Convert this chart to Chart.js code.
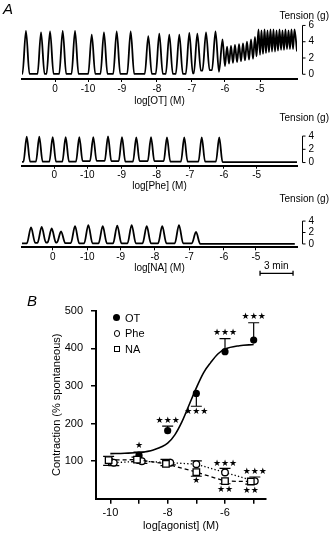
<!DOCTYPE html>
<html><head><meta charset="utf-8">
<script src="https://cdn.jsdelivr.net/npm/chart.js@4.4.1/dist/chart.umd.min.js"></script>
<style>
html,body{margin:0;padding:0;background:#fff;}
body{width:331px;height:536px;position:relative;overflow:hidden;font-family:'Liberation Sans',Arial,Helvetica,sans-serif;color:#000;}
canvas{position:absolute;left:0;}
.t{position:absolute;white-space:nowrap;}
.mk{position:absolute;box-sizing:border-box;}
</style></head><body>
<canvas id="c1" width="331" height="112" style="top:0px"></canvas>
<canvas id="c2" width="331" height="86" style="top:112px"></canvas>
<canvas id="c3" width="331" height="82" style="top:198px"></canvas>
<canvas id="cb" width="331" height="256" style="top:280px"></canvas>

<div class="t" style="left:3px;top:1px;font-size:15px;line-height:15px;font-style:italic;">A</div>
<div class="t" style="right:2px;top:10.5px;font-size:10px;line-height:10px;">Tension (g)</div>
<div class="t" style="right:2px;top:113px;font-size:10px;line-height:10px;">Tension (g)</div>
<div class="t" style="right:2px;top:193.7px;font-size:10px;line-height:10px;">Tension (g)</div>
<div class="t" style="left:264px;top:261px;font-size:10px;line-height:10px;">3 min</div>
<div class="t" style="left:27px;top:293px;font-size:15px;line-height:15px;font-style:italic;">B</div>

<div class="mk" style="left:113.2px;top:314.2px;width:7px;height:7px;border-radius:50%;background:#000;"></div>
<div class="mk" style="left:113.5px;top:330px;width:6.5px;height:6.5px;border-radius:50%;border:1.3px solid #000;background:#fff;"></div>
<div class="mk" style="left:113.5px;top:345.8px;width:6.5px;height:6.5px;border:1.3px solid #000;background:#fff;"></div>
<div class="t" style="left:125px;top:312.9px;font-size:11px;line-height:11px;">OT</div>
<div class="t" style="left:125px;top:327.9px;font-size:11px;line-height:11px;">Phe</div>
<div class="t" style="left:125px;top:343.6px;font-size:11px;line-height:11px;">NA</div>

<script>
// ---------- Panel A data (time in min) ----------
const concLabels = ['0','-10','-9','-8','-7','-6','-5'];
const otTickT  = [3.0, 6.0, 9.09, 12.27, 15.45, 18.45, 21.64];
const pheTickT = [2.94, 5.94, 9.06, 12.24, 15.27, 18.36, 21.34];
const naTickT  = [2.79, 5.94, 8.97, 12.09, 15.21, 18.36, 21.27];

const otPeakT = [0.36,1.73,2.55,3.70,4.82,6.34,7.45,8.61,9.88,11.48,12.48,13.39,14.30,15.21,15.94,16.73,17.59];
const otPeakV = [5.34,5.16,5.27,5.34,5.34,4.88,5.16,5.27,5.27,4.70,5.00,4.88,4.88,5.07,5.00,5.16,5.27];
const otBaseV = [0.05,0.05,0.05,0.05,0.05,0.05,0.05,0.05,0.05,0.05,0.05,0.05,0.05,0.05,0.1,0.45,0.5,0.3];
const otFastT = [18.23,18.45,18.64,18.82,19.0,19.18,19.36,19.55,19.73,19.91,20.09,20.27,20.45,20.64,20.82,21.0,21.18,21.32,
                 21.5,21.64,21.77,21.91,22.05,22.18,22.32,22.45,22.59,22.73,22.86,23.0,23.14,23.27,23.41,23.55,23.68,23.82,
                 23.95,24.09,24.23,24.36,24.5,24.64,24.77,25.0];
const otFastV = [4.3,1.0,3.4,1.3,3.5,1.4,3.6,1.5,3.7,1.6,3.8,1.7,4.0,1.8,4.3,1.9,4.6,2.2,
                 5.5,2.4,5.4,2.5,5.5,2.6,5.4,2.7,5.5,2.8,5.5,2.8,5.4,2.9,5.5,3.0,5.4,3.0,
                 5.5,3.1,5.4,3.1,5.5,3.1,5.5,2.8];

const phePeakT = [0.43,1.57,2.79,3.97,5.21,6.48,7.82,9.09,10.39,11.73,13.18,14.75,16.34,17.93];
const phePeakV = [3.9,3.9,3.85,3.85,3.85,3.85,3.95,3.85,3.8,3.85,3.8,3.8,3.8,3.8];
const pheBaseV = [0.1,0.15,0.15,0.15,0.15,0.2,0.25,0.2,0.15,0.2,0.2,0.15,0.15,0.15,0.05];

const naPeakT = [0.82,1.79,2.70,3.55,4.82,6.03,7.34,8.66,9.97,11.34,12.75,14.27,15.82];
const naPeakV = [2.9,3.0,2.7,2.2,3.1,3.3,3.1,3.2,3.3,3.1,3.1,3.3,2.1];
const naBaseV = [0.1,0.2,0.25,0.25,0.15,0.1,0.1,0.1,0.1,0.1,0.1,0.1,0.1,0.0];

const otTensionTicks = [0,2,4,6];
const smallTensionTicks = [0,2,4];
const timeBarStart = 21.64, timeBarLength = 3;

// ---------- Panel B data ----------
const doseTicks = [-10,-9,-8,-7,-6,-5];
const otX = [-10,-9,-8,-7,-6,-5];
const otY = [100,116,181,280,391,422];
const otErrUp = [0,8,12,0,35,46];
const otErrDown = [0,0,0,34,0,0];
const pheX = [-9.88,-8.9,-7.91,-7,-6,-4.96];
const pheY = [96,100,96,92,70,47];
const pheErrUp = [0,0,0,9,11,11];
const pheErrDown = [8,6,6,0,0,0];
const naX = [-10.06,-9.07,-8.06,-7,-6,-5.1];
const naY = [103,104,93,71,47,46];
const naErrUp = [10,7,12,0,0,0];
const naErrDown = [14,5,5,11,7,7];
const otFitX = [-10,-9.5,-9,-8.5,-8,-7.75,-7.5,-7.25,-7,-6.75,-6.5,-6.25,-6,-5.5,-5];
const otFitY = [120,121,123,130,148,170,205,250,295,335,362,385,398,407,410];
const starX = [-9,-8,-7,-6,-5,-6,-4.96,-7,-6,-5.1];
const starY = [140,207,231,442.5,484,94,73.4,47.6,25.5,21];
const starText = ['★','★★★','★★★','★★★','★★★','★★★','★★★','★','★★','★★'];

// ---------- helpers ----------
Chart.defaults.font.family = "'Liberation Sans', Arial, Helvetica, sans-serif";
Chart.defaults.color = '#000';

function buildTrace(peakT, peakV, baseV, halfW, tEnd, extraT, extraV) {
  const pts = [{x: 0, y: baseV[0]}];
  peakT.forEach((t, i) => {
    pts.push({x: t - halfW, y: baseV[i]});
    pts.push({x: t, y: peakV[i]});
    pts.push({x: t + halfW, y: baseV[i + 1]});
  });
  if (extraT) extraT.forEach((t, i) => pts.push({x: t, y: extraV[i]}));
  else pts.push({x: tEnd, y: baseV[baseV.length - 1]});
  return pts;
}

function tensionBar(ticks) {
  return {
    id: 'tensionBar',
    afterDraw(chart) {
      const y = chart.scales.y, ctx = chart.ctx;
      const x0 = Math.round(chart.chartArea.right + 5) + 0.5;
      ctx.save();
      ctx.strokeStyle = '#000'; ctx.lineWidth = 1;
      ctx.beginPath();
      ctx.moveTo(x0, y.getPixelForValue(ticks[ticks.length - 1]));
      ctx.lineTo(x0, y.getPixelForValue(ticks[0]));
      ticks.forEach(v => { const p = y.getPixelForValue(v); ctx.moveTo(x0, p); ctx.lineTo(x0 + 3, p); });
      ctx.stroke();
      ctx.restore();
    }
  };
}

const timeBar = {
  id: 'timeBar',
  afterDraw(chart) {
    const x = chart.scales.x, ctx = chart.ctx;
    const x1 = x.getPixelForValue(timeBarStart), x2 = x.getPixelForValue(timeBarStart + timeBarLength);
    const yy = chart.chartArea.bottom + 26;
    ctx.save();
    ctx.strokeStyle = '#000'; ctx.lineWidth = 1.3;
    ctx.beginPath();
    ctx.moveTo(x1, yy); ctx.lineTo(x2, yy);
    ctx.moveTo(x1, yy - 2.5); ctx.lineTo(x1, yy + 2.5);
    ctx.moveTo(x2, yy - 2.5); ctx.lineTo(x2, yy + 2.5);
    ctx.stroke();
    ctx.restore();
  }
};

function makeTrace(id, pts, tickPos, title, yMin, yMax, yTicks, xAxisH, titlePadBottom, padTop, extra) {
  const font = {size: 10};
  new Chart(document.getElementById(id), {
    type: 'line',
    data: {datasets: [{data: pts, borderColor: '#000', borderWidth: 1.8, pointRadius: 0,
      cubicInterpolationMode: 'monotone', fill: false}]},
    options: {
      responsive: false, animation: false, devicePixelRatio: 1, events: [],
      layout: {padding: {left: 22, top: padTop, right: 0, bottom: 0}},
      plugins: {legend: {display: false}, tooltip: {enabled: false}},
      scales: {
        x: {type: 'linear', min: 0, max: 25,
          afterBuildTicks: s => { s.ticks = tickPos.map(v => ({value: v})); },
          afterFit: s => { s.height = xAxisH; },
          ticks: {callback: (v, i) => concLabels[i], font, color: '#000', padding: 1, maxRotation: 0, autoSkip: false},
          grid: {drawOnChartArea: false, drawTicks: true, tickLength: 3, color: '#000', lineWidth: 1},
          border: {display: true, width: 2, color: '#000'},
          title: {display: true, text: title, font, color: '#000', padding: {top: 0, bottom: titlePadBottom}}
        },
        y: {position: 'right', min: yMin, max: yMax,
          afterBuildTicks: s => { s.ticks = yTicks.map(v => ({value: v})); },
          afterFit: s => { s.width = 34; },
          ticks: {font, color: '#000', padding: 11.5},
          grid: {display: false, drawTicks: false},
          border: {display: false}
        }
      }
    },
    plugins: [tensionBar(yTicks)].concat(extra || [])
  });
}

makeTrace('c1', buildTrace(otPeakT, otPeakV, otBaseV, 0.32, 25, otFastT, otFastV), otTickT,
  'log[OT] (M)', -0.581, 6.977, otTensionTicks, 33, 4.5, 14);
makeTrace('c2', buildTrace(phePeakT, phePeakV, pheBaseV, 0.30, 25), pheTickT,
  'log[Phe] (M)', -0.479, 4.994, smallTensionTicks, 32.3, 5.8, 8);
makeTrace('c3', buildTrace(naPeakT, naPeakV, naBaseV, 0.38, 24.8), naTickT,
  'log[NA] (M)', -0.588, 4.976, smallTensionTicks, 32.7, 5.7, 2, [timeBar]);

// ---------- Panel B ----------
const errorBars = {
  id: 'errorBars',
  beforeDatasetsDraw(chart) {
    const xs = chart.scales.x, ys = chart.scales.y, ctx = chart.ctx;
    const series = [[otX, otY, otErrUp, otErrDown], [pheX, pheY, pheErrUp, pheErrDown], [naX, naY, naErrUp, naErrDown]];
    ctx.save();
    ctx.strokeStyle = '#000'; ctx.lineWidth = 1.2;
    ctx.beginPath();
    series.forEach(([sx, sy, up, dn]) => {
      sx.forEach((xv, i) => {
        const px = xs.getPixelForValue(xv), py = ys.getPixelForValue(sy[i]);
        [up[i], -dn[i]].forEach(e => {
          if (!e) return;
          const pe = ys.getPixelForValue(sy[i] + e);
          ctx.moveTo(px, py); ctx.lineTo(px, pe);
          ctx.moveTo(px - 5.5, pe); ctx.lineTo(px + 5.5, pe);
        });
      });
    });
    ctx.stroke();
    ctx.restore();
  },
  afterDatasetsDraw(chart) {
    const xs = chart.scales.x, ys = chart.scales.y, ctx = chart.ctx;
    ctx.save();
    ctx.fillStyle = '#000';
    ctx.font = "9px 'DejaVu Sans'";
    ctx.textAlign = 'center'; ctx.textBaseline = 'middle';
    starX.forEach((xv, i) => ctx.fillText(starText[i], xs.getPixelForValue(xv), ys.getPixelForValue(starY[i])));
    ctx.restore();
  }
};

const pairs = (xa, ya) => xa.map((x, i) => ({x, y: ya[i]}));
const fB = {size: 11};
new Chart(document.getElementById('cb'), {
  type: 'line',
  data: {datasets: [
    {label: 'OT fit', data: pairs(otFitX, otFitY), borderColor: '#000', borderWidth: 1.6, pointRadius: 0,
      cubicInterpolationMode: 'monotone', fill: false, order: 5},
    {label: 'OT', data: pairs(otX, otY), showLine: false, pointRadius: 3.6, pointStyle: 'circle',
      pointBackgroundColor: '#000', pointBorderColor: '#000', pointBorderWidth: 0, order: 4},
    {label: 'Phe', data: pairs(pheX, pheY), borderColor: '#000', borderWidth: 1.3, borderDash: [1.3, 2.2],
      pointRadius: 3.3, pointStyle: 'circle', pointBackgroundColor: '#fff', pointBorderColor: '#000',
      pointBorderWidth: 1.3, fill: false, order: 2},
    {label: 'NA', data: pairs(naX, naY), borderColor: '#000', borderWidth: 1.3, borderDash: [4, 3],
      pointRadius: 4.6, pointStyle: 'rect', pointBackgroundColor: '#fff', pointBorderColor: '#000',
      pointBorderWidth: 1.3, fill: false, order: 1}
  ]},
  options: {
    responsive: false, animation: false, devicePixelRatio: 1, events: [],
    layout: {padding: {left: 0, top: 30.7, right: 65, bottom: 0}},
    plugins: {legend: {display: false}, tooltip: {enabled: false}},
    scales: {
      x: {type: 'linear', min: -10.5, max: -4.57,
        afterBuildTicks: s => { s.ticks = doseTicks.map(v => ({value: v})); },
        afterFit: s => { s.height = 37.2; },
        ticks: {callback: v => (v % 2 === 0 ? String(v) : ''), font: fB, color: '#000', padding: 2.7, maxRotation: 0, autoSkip: false},
        grid: {drawOnChartArea: false, drawTicks: true, tickLength: 5, color: '#000', lineWidth: 1.5},
        border: {display: true, width: 2, color: '#000'},
        title: {display: true, text: 'log[agonist] (M)', font: fB, color: '#000', padding: {top: 0, bottom: 3.4}}
      },
      y: {min: 0, max: 500,
        afterBuildTicks: s => { s.ticks = [100, 200, 300, 400, 500].map(v => ({value: v})); },
        afterFit: s => { s.width = 96; },
        ticks: {font: fB, color: '#000', padding: 8},
        grid: {drawOnChartArea: false, drawTicks: true, tickLength: 5, color: '#000', lineWidth: 1.5},
        border: {display: true, width: 2, color: '#000'},
        title: {display: true, text: 'Contraction (% spontaneous)', font: fB, color: '#000', padding: {top: 50.4, bottom: 0}}
      }
    }
  },
  plugins: [errorBars]
});
</script>
</body></html>
